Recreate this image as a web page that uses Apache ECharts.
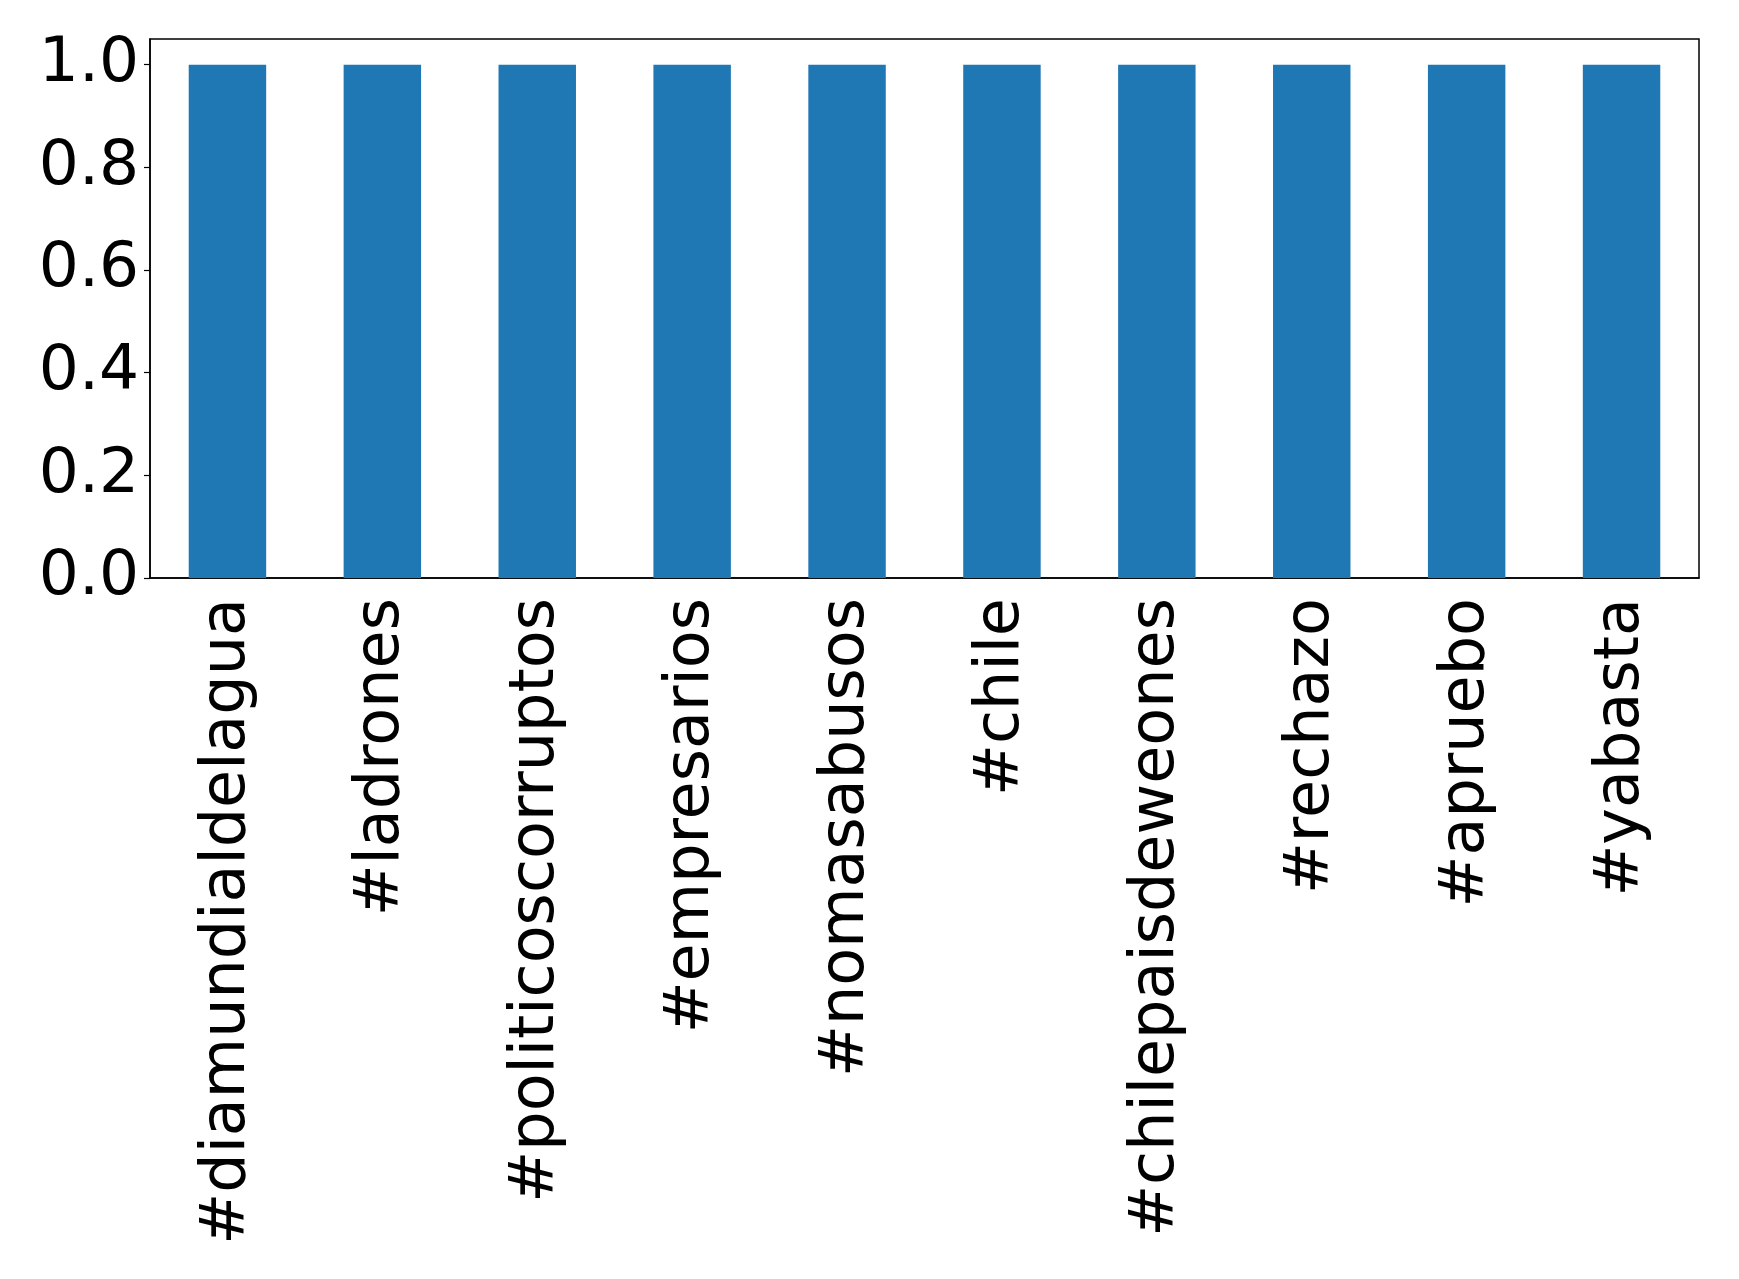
<!DOCTYPE html>
<html>
<head>
<meta charset="utf-8">
<script src="https://cdn.jsdelivr.net/npm/echarts@6/dist/echarts.min.js"></script>
<style>
  html, body { margin: 0; padding: 0; background: #fff; }
  #bar { width: 1739px; height: 1279px; }
</style>
</head>
<body>
<div id="bar"></div>
<script>
// hashtags and their counts
var hashtags = ["#diamundialdelagua", "#ladrones", "#politicoscorruptos", "#empresarios",
  "#nomasabusos", "#chile", "#chilepaisdeweones", "#rechazo", "#apruebo", "#yabasta"];
var counts = [1, 1, 1, 1, 1, 1, 1, 1, 1, 1];
var yTicks = [0, 0.2, 0.4, 0.6, 0.8, 1.0];

var myChart = echarts.init(document.getElementById("bar"));
myChart.setOption({
  animation: false,
  textStyle: { fontFamily: "DejaVu Sans" },
  grid: {
    left: 150,
    right: 40,
    top: 39,
    bottom: 701,
    show: true,
    borderColor: "#000",
    borderWidth: 1.5
  },
  xAxis: {
    type: "category",
    data: hashtags,
    axisLine: { lineStyle: { color: "#000", width: 1.5 } },
    axisTick: { alignWithLabel: true, length: 6, lineStyle: { color: "#000", width: 1.2 } },
    axisLabel: {
      rotate: 90,
      margin: 20,
      interval: 0,
      padding: [8, 0, 0, 0],
      color: "#000",
      fontSize: 62,
      fontFamily: "DejaVu Sans"
    }
  },
  yAxis: {
    type: "value",
    min: 0,
    max: 1.05,
    splitLine: { show: false },
    axisLine: { show: true, lineStyle: { color: "#000", width: 1.5 } },
    axisTick: { show: true, length: 6, customValues: yTicks, lineStyle: { color: "#000", width: 1.2 } },
    axisLabel: {
      customValues: yTicks,
      margin: 11,
      color: "#000",
      fontSize: 63,
      fontFamily: "DejaVu Sans",
      formatter: function (v) { return v.toFixed(1); }
    }
  },
  series: [
    {
      type: "bar",
      data: counts,
      barWidth: "50%",
      itemStyle: { color: "#1f77b4" }
    }
  ]
});
</script>
</body>
</html>
